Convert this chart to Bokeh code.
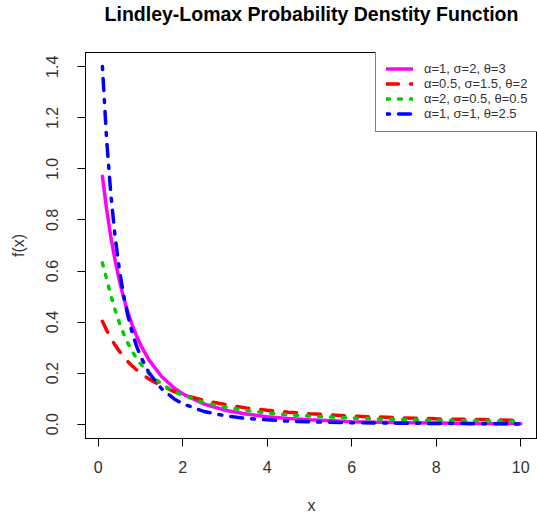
from bokeh.plotting import figure
from bokeh.models import Legend, LegendItem, FixedTicker, PrintfTickFormatter, Range1d, Title
from bokeh.embed import file_html
from bokeh.resources import INLINE

x = [0.1, 0.2, 0.3, 0.4, 0.5, 0.6, 0.7, 0.8, 0.9, 1.0, 1.2, 1.5, 1.8, 2.0, 2.5,
     3.0, 3.5, 4.0, 4.5, 5.0, 6.0, 7.0, 8.0, 9.0, 10.0]
f_a1_s2_t3 = [0.971, 0.842, 0.733, 0.642, 0.564, 0.497, 0.440, 0.391, 0.349, 0.312,
              0.252, 0.187, 0.142, 0.119, 0.079, 0.055, 0.040, 0.029, 0.022, 0.017,
              0.010, 0.007, 0.005, 0.003, 0.002]
f_a05_s15_t2 = [0.403, 0.368, 0.337, 0.310, 0.286, 0.265, 0.246, 0.229, 0.214, 0.201,
                0.177, 0.150, 0.128, 0.116, 0.093, 0.077, 0.064, 0.055, 0.047, 0.041,
                0.032, 0.026, 0.021, 0.018, 0.015]
f_a2_s05_t05 = [0.632, 0.569, 0.505, 0.448, 0.398, 0.355, 0.318, 0.287, 0.260, 0.237,
                0.199, 0.157, 0.128, 0.113, 0.085, 0.067, 0.054, 0.044, 0.037, 0.032,
                0.024, 0.019, 0.015, 0.013, 0.011]
f_a1_s1_t25 = [1.401, 1.115, 0.900, 0.735, 0.607, 0.507, 0.427, 0.362, 0.310, 0.267,
               0.202, 0.139, 0.099, 0.080, 0.050, 0.033, 0.023, 0.017, 0.012, 0.009,
               0.006, 0.004, 0.003, 0.002, 0.001]
labels = ["α=1, σ=2, θ=3", "α=0.5, σ=1.5, θ=2", "α=2, σ=0.5, θ=0.5", "α=1, σ=1, θ=2.5"]
x_ticks = [0, 2, 4, 6, 8, 10]
y_ticks = [0.0, 0.2, 0.4, 0.6, 0.8, 1.0, 1.2, 1.4]

FONT = "Liberation Sans"
TXT = "#333333"

p = figure(width=537, height=517, output_backend="svg", toolbar_location=None,
           x_range=Range1d(-0.3, 10.396), y_range=Range1d(-0.056, 1.456),
           min_border_left=85, min_border_right=0, min_border_top=52, min_border_bottom=79,
           title="Lindley-Lomax Probability Denstity Function")
p.title.align = "center"
p.title.text_font = FONT
p.title.text_font_style = "bold"
p.title.text_font_size = "19.5px"
p.title.text_color = "black"
p.title.standoff = 0
# empty spacer between the title and the plot box
p.add_layout(Title(text=" ", text_font_size="2px", standoff=24), "above")

p.grid.visible = False
p.outline_line_color = "black"
p.outline_line_width = 1
p.background_fill_color = "white"
p.border_fill_color = "white"

for ax in (p.xaxis[0], p.yaxis[0]):
    ax.axis_line_color = "black"
    ax.major_tick_line_color = "black"
    ax.major_tick_out = 8
    ax.major_tick_in = 0
    ax.minor_tick_out = 0
    ax.minor_tick_in = 0
    ax.major_label_text_font = FONT
    ax.major_label_text_font_size = "16px"
    ax.major_label_text_color = TXT
    ax.axis_label_text_font = FONT
    ax.axis_label_text_font_size = "16px"
    ax.axis_label_text_font_style = "normal"
    ax.axis_label_text_color = TXT
p.xaxis.ticker = FixedTicker(ticks=x_ticks)
p.xaxis.formatter = PrintfTickFormatter(format="%d")
p.xaxis.major_label_standoff = 14
p.xaxis.axis_label = "x"
p.xaxis.axis_label_standoff = 21
p.yaxis.ticker = FixedTicker(ticks=y_ticks)
p.yaxis.formatter = PrintfTickFormatter(format="%.1f")
p.yaxis.major_label_orientation = "vertical"
p.yaxis.major_label_standoff = 19
p.yaxis.axis_label = "f(x)"
p.yaxis.axis_label_standoff = 17

r1 = p.line(x, f_a1_s2_t3, line_color="#FF00FF", line_width=3.5, line_cap="round")
r2 = p.line(x, f_a05_s15_t2, line_color="#FF0000", line_width=3.5, line_dash="12 12", line_cap="round")
r3 = p.line(x, f_a2_s05_t05, line_color="#00CD00", line_width=3.5, line_dash="3 9", line_cap="round")
r4 = p.line(x, f_a1_s1_t25, line_color="#0000FF", line_width=3.5, line_dash="3 9 12 9", line_cap="round")

legend = Legend(items=[LegendItem(label=l, renderers=[r]) for l, r in zip(labels, [r1, r2, r3, r4])],
                location=(290, 306), padding=10, margin=0, spacing=0,
                glyph_width=27, glyph_height=15, label_height=15, label_standoff=11,
                label_text_font=FONT, label_text_font_size="13px", label_text_color=TXT,
                border_line_color="black", border_line_width=1,
                background_fill_color="white", background_fill_alpha=1.0)
p.add_layout(legend)

open("out.html", "w").write(file_html(p, INLINE))
